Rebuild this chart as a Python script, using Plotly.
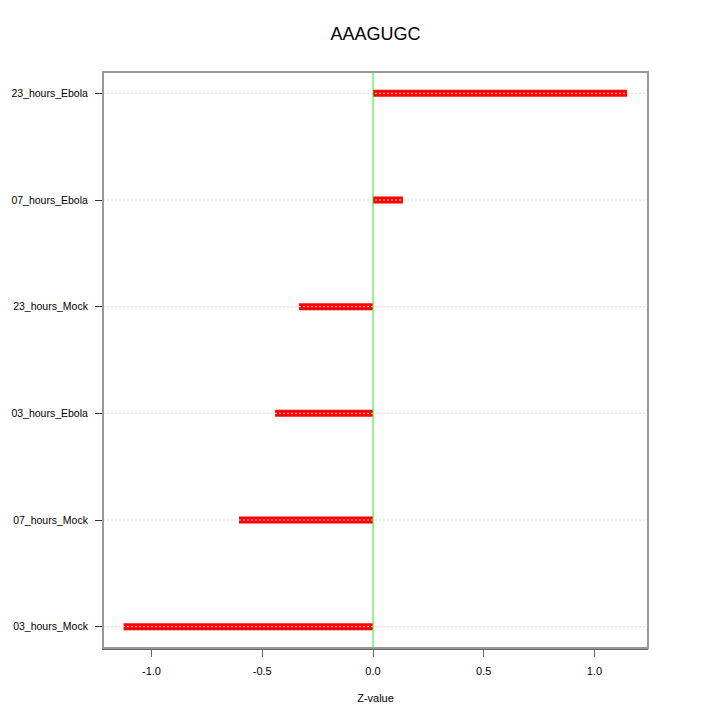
import plotly.graph_objects as go

categories = [
    "03_hours_Mock",
    "07_hours_Mock",
    "03_hours_Ebola",
    "23_hours_Mock",
    "07_hours_Ebola",
    "23_hours_Ebola",
]
z_values = [-1.126, -0.605, -0.442, -0.334, 0.135, 1.147]
x_ticks = [-1.0, -0.5, 0.0, 0.5, 1.0]

FONT = "Liberation Sans, Arial, sans-serif"
positions = list(range(1, len(categories) + 1))

fig = go.Figure()
fig.add_trace(
    go.Bar(
        x=z_values,
        y=positions,
        orientation="h",
        width=0.066,
        marker=dict(color="#ff0000", line=dict(width=0)),
        showlegend=False,
    )
)

# dotted grid lines drawn over the bars, like the original
shapes = []
for p in positions:
    shapes.append(
        dict(
            type="line", xref="paper", yref="y", x0=0, x1=1, y0=p, y1=p,
            line=dict(color="#d8d8d8", width=1, dash="2px,2px"), layer="above",
        )
    )
shapes.append(
    dict(
        type="line", xref="x", yref="paper", x0=0, x1=0, y0=0, y1=1,
        line=dict(color="#22ee22", width=1), layer="above",
    )
)
shapes.append(
    dict(
        type="rect", xref="paper", yref="paper", x0=0, x1=1, y0=0, y1=1,
        line=dict(color="#999999", width=2), layer="above",
    )
)

fig.update_layout(
    width=720,
    height=720,
    margin=dict(l=95, r=80, t=64, b=80),
    paper_bgcolor="white",
    plot_bgcolor="white",
    font=dict(family=FONT, size=11, color="black"),
    title=dict(
        text="AAAGUGC", x=0.5, xref="paper", y=0.964, yanchor="middle",
        font=dict(family=FONT, size=18, color="black"),
    ),
    shapes=shapes,
    xaxis=dict(
        range=[-1.219, 1.2415],
        tickvals=x_ticks,
        ticktext=[f"{t:.1f}" for t in x_ticks],
        ticks="outside",
        ticklen=7,
        tickcolor="#666666",
        showgrid=False,
        zeroline=False,
        showline=True,
        linecolor="#666666",
        linewidth=2,
        title=dict(text="Z-value", standoff=18, font=dict(size=11)),
        tickfont=dict(size=11),
        ticklabelstandoff=5,
        automargin=False,
    ),
    yaxis=dict(
        range=[0.8, 6.2],
        tickvals=positions,
        ticktext=categories,
        ticks="outside",
        ticklen=7,
        tickcolor="#333333",
        showgrid=False,
        zeroline=False,
        showline=True,
        linecolor="#222222",
        linewidth=1,
        tickfont=dict(size=10.5),
        ticklabelstandoff=5,
        automargin=False,
    ),
)

fig.write_html("out.html")
